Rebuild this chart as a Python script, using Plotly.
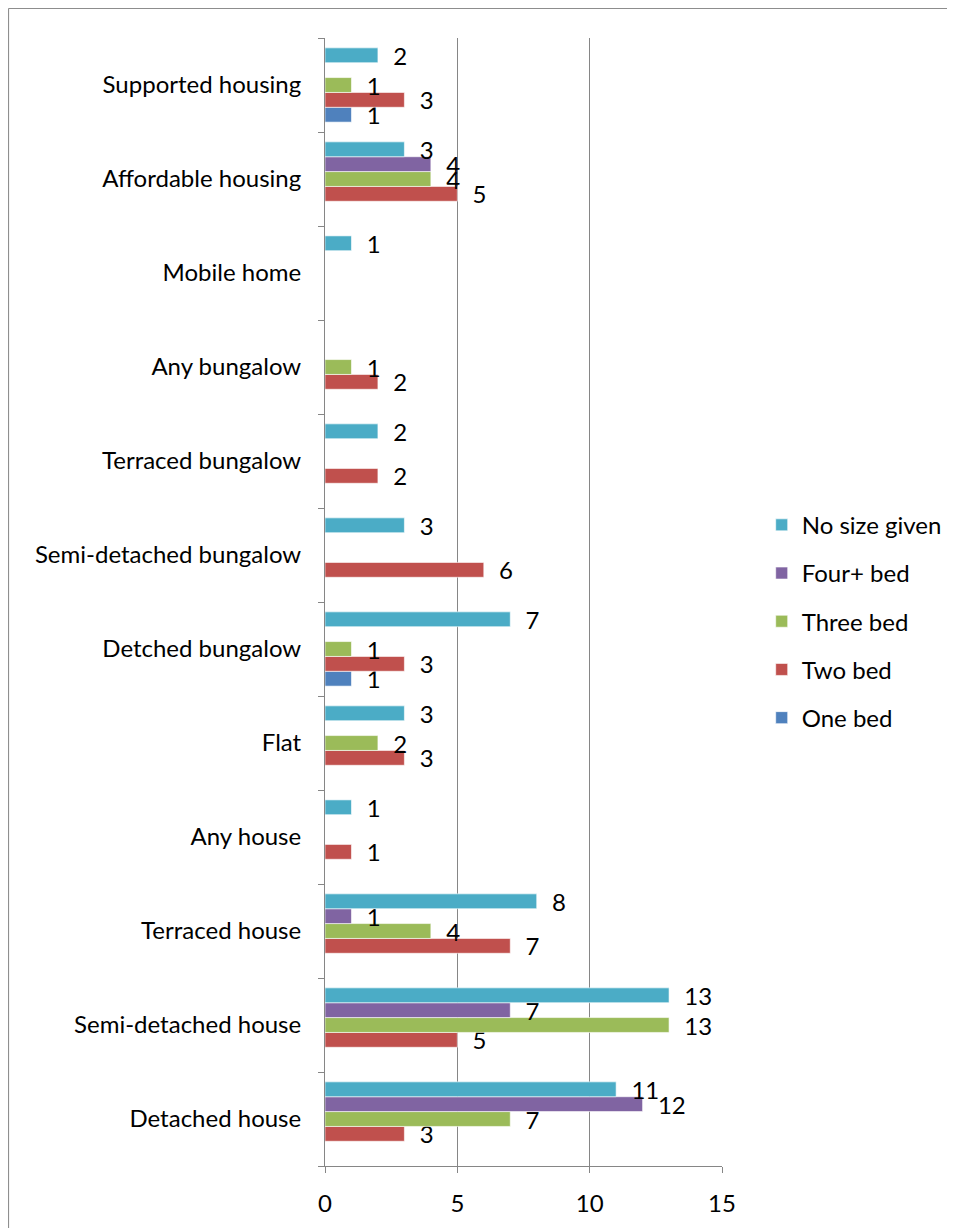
"""Housing need by property type and size - horizontal grouped bars."""

import plotly.graph_objects as go

categories = [
    "Detached house",
    "Semi-detached house",
    "Terraced house",
    "Any house",
    "Flat",
    "Detched bungalow",
    "Semi-detached bungalow",
    "Terraced bungalow",
    "Any bungalow",
    "Mobile home",
    "Affordable housing",
    "Supported housing",
]

one_bed = [None, None, None, None, None, 1, None, None, None, None, None, 1]
two_bed = [3, 5, 7, 1, 3, 3, 6, 2, 2, None, 5, 3]
three_bed = [7, 13, 4, None, 2, 1, None, None, 1, None, 4, 1]
four_bed = [12, 7, 1, None, None, None, None, None, None, None, 4, None]
no_size = [11, 13, 8, 1, 3, 7, 3, 2, None, 1, 3, 2]

series = [
    ("One bed", one_bed, "#4F81BD"),
    ("Two bed", two_bed, "#C0504D"),
    ("Three bed", three_bed, "#9BBB59"),
    ("Four+ bed", four_bed, "#8064A2"),
    ("No size given", no_size, "#4BACC6"),
]

FONT = "Lato, 'Open Sans', sans-serif"
GREY = "#868686"

fig = go.Figure()
for i, (name, vals, colour) in enumerate(series):
    fig.add_trace(go.Bar(
        y=categories,
        x=vals,
        name=name,
        orientation="h",
        legendgroup=name,
        legendrank=len(series) - i,
        marker=dict(color=colour, line=dict(color="white", width=0.6)),
        text=["  " + str(v) if v is not None else "" for v in vals],
        textposition="outside",
        textfont=dict(size=24, color="black", family=FONT),
        constraintext="none",
        cliponaxis=False,
    ))

# page body adds an 8px offset, so margins are set 8px short of the target
fig.update_layout(
    width=955,
    height=1228,
    barmode="group",
    bargap=0.21,
    bargroupgap=0,
    plot_bgcolor="white",
    paper_bgcolor="white",
    font=dict(family=FONT, size=24, color="black"),
    margin=dict(l=317, r=241, t=30, b=70),
    legend=dict(
        traceorder="grouped",
        tracegroupgap=14,
        x=1.1,
        xanchor="left",
        y=0.588,
        yanchor="top",
        font=dict(size=24, family=FONT),
    ),
    xaxis=dict(
        range=[0, 15],
        tickvals=[0, 5, 10, 15],
        showgrid=True,
        gridcolor=GREY,
        gridwidth=1,
        zeroline=False,
        showline=True,
        linecolor=GREY,
        ticks="outside",
        ticklen=6,
        tickcolor=GREY,
        ticklabelstandoff=10,
    ),
    yaxis=dict(
        type="category",
        categoryorder="array",
        categoryarray=categories,
        showline=True,
        linecolor=GREY,
        ticks="outside",
        tickson="boundaries",
        ticklen=6,
        tickcolor=GREY,
        showgrid=False,
        ticklabelstandoff=18,
    ),
    shapes=[
        dict(
            type="rect", xref="paper", yref="paper",
            x0=-0.797, x1=1.7, y0=-0.2, y1=1.0262,
            line=dict(color=GREY, width=1), layer="below",
        )
    ],
)

fig.write_html("out.html")
